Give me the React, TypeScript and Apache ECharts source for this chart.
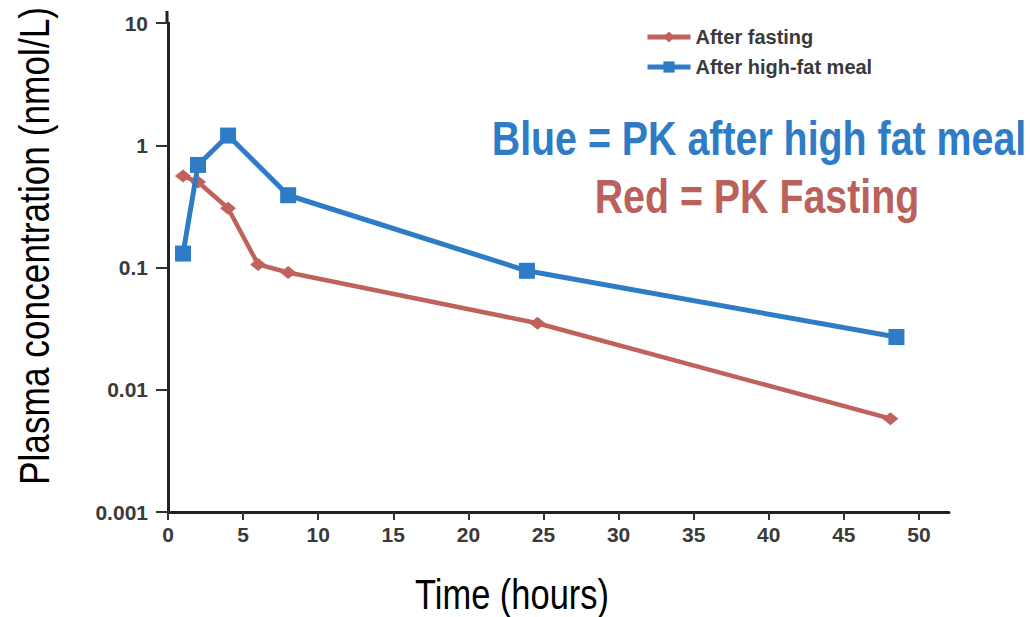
import React, { useEffect, useRef } from "react";
import * as echarts from "echarts";

const fastingTimes = [1, 2, 4, 6, 8, 24.6, 48.1];
const fastingConc = [0.56, 0.5, 0.305, 0.106, 0.091, 0.035, 0.0058];
const mealTimes = [1, 2, 4, 8, 23.9, 48.5];
const mealConc = [0.13, 0.69, 1.2, 0.39, 0.094, 0.027];
const yTickLabels = ["0.001", "0.01", "0.1", "1", "10"];
const legendNames = ["After fasting", "After high-fat meal"];
const xTitle = "Time (hours)";
const yTitle = "Plasma concentration (nmol/L)";
const noteBlue = "Blue = PK after high fat meal";
const noteRed = "Red = PK Fasting";

const RED = "#C0625B";
const BLUE = "#2E7CC5";
const FONT = "'Liberation Sans', Arial, Helvetica, sans-serif";
const NARROW = 0.82;

export default function App() {
  const ref = useRef<HTMLDivElement>(null);
  useEffect(() => {
    if (!ref.current) return;
    const chart = echarts.init(ref.current, null, { renderer: "svg" });
    chart.setOption({
      animation: false,
      backgroundColor: "#ffffff",
      grid: { left: 168, right: 81, top: 23, bottom: 105, containLabel: false },
      legend: {
        orient: "vertical",
        left: 645,
        top: 27,
        padding: 0,
        itemWidth: 43,
        itemHeight: 14,
        itemGap: 10,
        lineStyle: { width: 5 },
        textStyle: { fontSize: 20, fontWeight: "bold", color: "#3a3a3a", fontFamily: FONT },
        data: legendNames,
      },
      xAxis: {
        type: "value",
        min: 0,
        max: 52,
        interval: 5,
        splitLine: { show: false },
        axisLine: { show: true, lineStyle: { color: "#222", width: 3 } },
        axisTick: { show: true, length: 8, lineStyle: { color: "#333", width: 2 } },
        axisLabel: {
          fontSize: 21,
          fontWeight: "bold",
          color: "#3a3a3a",
          margin: 12,
          fontFamily: FONT,
          showMaxLabel: false,
        },
      },
      yAxis: {
        type: "log",
        logBase: 10,
        min: 0.001,
        max: 10,
        splitLine: { show: false },
        axisLine: { show: true, lineStyle: { color: "#222", width: 3 } },
        axisTick: { show: true, inside: false, length: 12, lineStyle: { color: "#333", width: 2 } },
        minorTick: { show: false },
        axisLabel: {
          fontSize: 21,
          fontWeight: "bold",
          color: "#3a3a3a",
          margin: 20,
          fontFamily: FONT,
          formatter: (v: number) => yTickLabels[Math.round(Math.log10(v)) + 3] ?? String(v),
        },
      },
      series: [
        {
          name: legendNames[0],
          type: "line",
          data: fastingTimes.map((t, i) => [t, fastingConc[i]]),
          symbol: "diamond",
          symbolSize: [16, 13],
          lineStyle: { color: RED, width: 4.5 },
          itemStyle: { color: RED },
          z: 2,
        },
        {
          name: legendNames[1],
          type: "line",
          data: mealTimes.map((t, i) => [t, mealConc[i]]),
          symbol: "rect",
          symbolSize: 16,
          lineStyle: { color: BLUE, width: 5 },
          itemStyle: { color: BLUE },
          z: 3,
        },
      ],
      graphic: [
        {
          type: "line",
          shape: { x1: 167, y1: 11, x2: 167, y2: 24 },
          style: { stroke: "#222", lineWidth: 3 },
        },
        {
          type: "text",
          x: 759,
          y: 138,
          scaleX: NARROW,
          style: {
            text: noteBlue,
            fill: BLUE,
            font: `bold 48px ${FONT}`,
            textAlign: "center",
            textVerticalAlign: "middle",
          },
        },
        {
          type: "text",
          x: 757,
          y: 196,
          scaleX: NARROW,
          style: {
            text: noteRed,
            fill: "#B9615A",
            font: `bold 48px ${FONT}`,
            textAlign: "center",
            textVerticalAlign: "middle",
          },
        },
        {
          type: "text",
          x: 512,
          y: 594,
          scaleX: NARROW,
          style: {
            text: xTitle,
            fill: "#000",
            font: `42px ${FONT}`,
            textAlign: "center",
            textVerticalAlign: "middle",
          },
        },
        {
          type: "text",
          x: 34,
          y: 246,
          rotation: Math.PI / 2,
          scaleX: NARROW,
          style: {
            text: yTitle,
            fill: "#000",
            font: `43px ${FONT}`,
            textAlign: "center",
            textVerticalAlign: "middle",
          },
        },
      ],
    });
    return () => chart.dispose();
  }, []);
  return (
    <div
      ref={ref}
      style={{ position: "fixed", left: 0, top: 0, width: 1030, height: 617, background: "#fff" }}
    />
  );
}
